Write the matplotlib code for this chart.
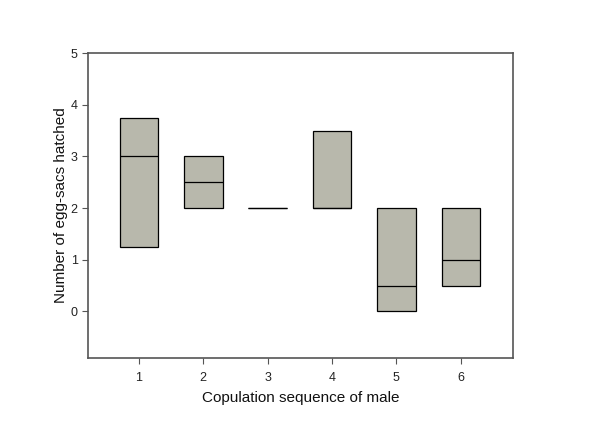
import matplotlib
matplotlib.use("Agg")
import matplotlib.pyplot as plt

# dados
sequencia = [1, 2, 3, 4, 5, 6]
q1 = [1.25, 2.0, 2.0, 2.0, 0.0, 0.5]
mediana = [3.0, 2.5, 2.0, 2.0, 0.5, 1.0]
q3 = [3.75, 3.0, 2.0, 3.5, 2.0, 2.0]

plt.rcParams['font.family'] = ['Liberation Sans', 'DejaVu Sans']

fig = plt.figure(figsize=(6, 4.43), dpi=100)
ax = fig.add_axes([88/600, 1 - 358/443, (513-88)/600, (358-53)/443])

stats = []
for s, a, m, b in zip(sequencia, q1, mediana, q3):
    stats.append({'q1': a, 'med': m, 'q3': b, 'whislo': a, 'whishi': b, 'fliers': []})

ax.bxp(stats, positions=sequencia, widths=0.6, patch_artist=True,
       showcaps=False, showfliers=False,
       boxprops=dict(facecolor='#b8b8ac', edgecolor='black', linewidth=0.9),
       medianprops=dict(color='black', linewidth=0.9),
       whiskerprops=dict(linewidth=0))

ax.set_xlim(0.21, 6.81)
ax.set_ylim(-0.9, 5)
ax.set_xticks(sequencia)
ax.set_xticklabels([str(s) for s in sequencia])
ax.set_yticks([0, 1, 2, 3, 4, 5])

for sp in ax.spines.values():
    sp.set_color('#555555')
    sp.set_linewidth(1.2)
ax.tick_params(colors='#555555', labelcolor='#222222', labelsize=9, length=4)
ax.tick_params(axis='x', pad=6)

ax.set_xlabel("Copulation sequence of male", fontsize=11, color='#111111', labelpad=5)
ax.set_ylabel("Number of egg-sacs hatched", fontsize=11, color='#111111', labelpad=2)

plt.savefig("out.png", dpi=100)
